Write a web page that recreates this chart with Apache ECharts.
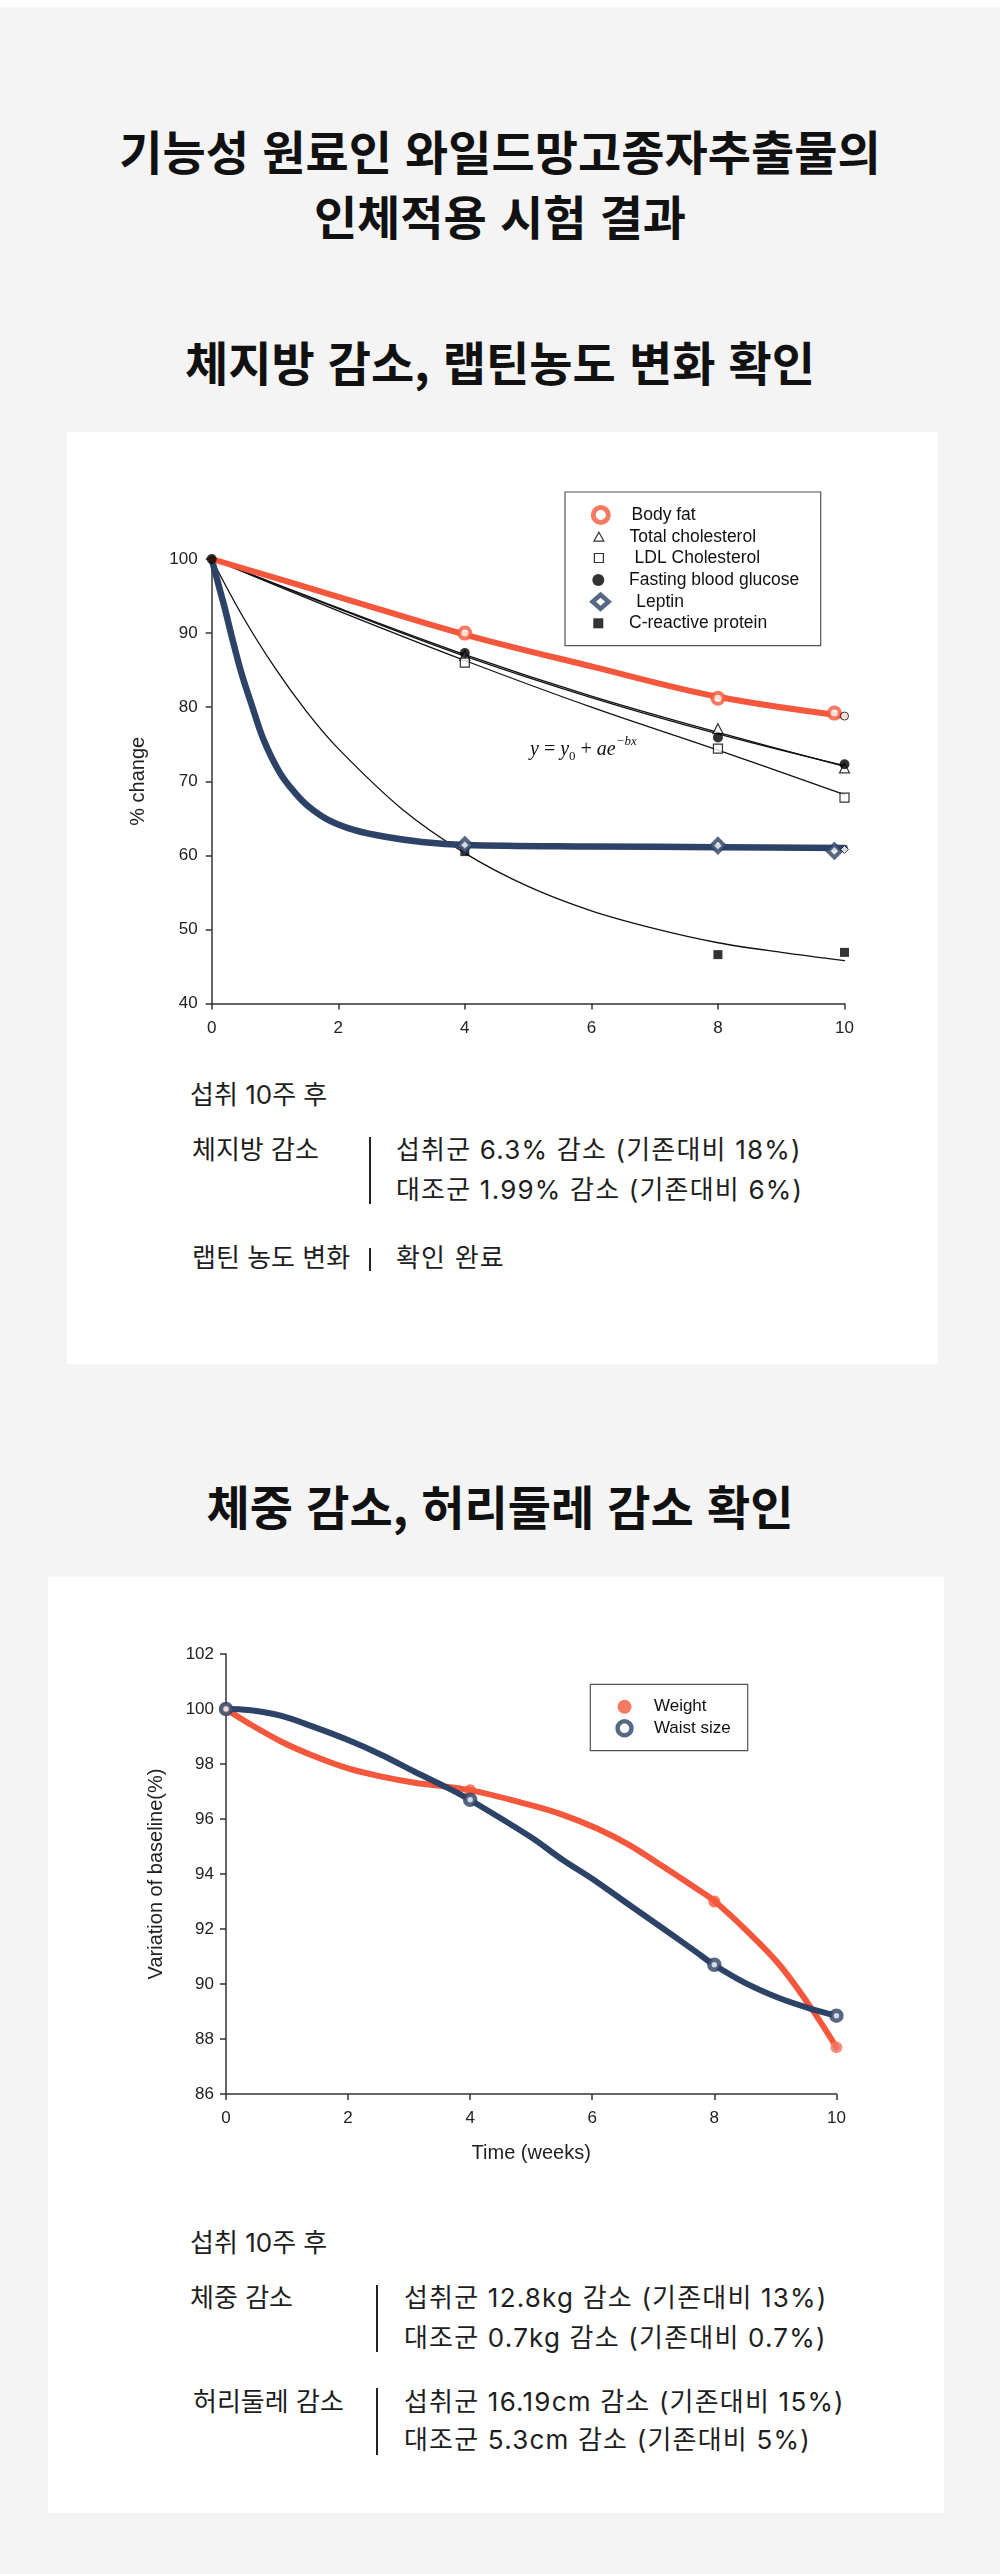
<!DOCTYPE html>
<html lang="ko">
<head>
<meta charset="utf-8">
<title>와일드망고종자추출물 인체적용 시험 결과</title>
<script src="https://cdn.jsdelivr.net/npm/echarts@6/dist/echarts.min.js"></script>
<style>
html, body { margin: 0; padding: 0; }
body {
  width: 1000px; height: 2574px; position: relative; overflow: hidden;
  background: #f4f4f4; color: #1e1e1e;
  font-family: "Noto Sans CJK KR", "Noto Sans", sans-serif;
}
.topline { position: absolute; left: 0; top: 0; width: 1000px; height: 7px; background: #fff; }
.head { position: absolute; left: 0; width: 1000px; text-align: center; font-size: 47px; font-weight: 700; color: #111; line-height: 1; white-space: nowrap; }
.card { position: absolute; background: #fff; }
.chart { position: absolute; }
.t { position: absolute; font-family: "Inter", "Noto Sans CJK KR", sans-serif; font-size: 26px; line-height: 1; white-space: nowrap; color: #1e1e1e; }
.t.r { letter-spacing: 1.2px; }
.bar { position: absolute; width: 2px; background: #222; }
.eq { position: absolute; font-family: "Liberation Serif", serif; font-size: 20px; line-height: 1; white-space: nowrap; color: #111; font-style: italic; }
.eq .n { font-style: normal; }
.eq .sub { font-style: normal; font-size: 13px; position: relative; top: 5px; }
.eq .sup { font-size: 13px; position: relative; top: -10px; }
</style>
</head>
<body>
<div class="topline"></div>
<div class="head" style="top:126px">기능성 원료인 와일드망고종자추출물의</div>
<div class="head" style="top:191px">인체적용 시험 결과</div>
<div class="head" style="top:337px">체지방 감소, 랩틴농도 변화 확인</div>

<div class="card" style="left:67px; top:432px; width:871px; height:932px"></div>
<div class="chart" id="chart1" style="left:67px; top:432px; width:871px; height:620px"></div>
<div class="eq" style="left:530px; top:738px"><span>y</span> <span class="n">=</span> <span>y</span><span class="sub">0</span> <span class="n">+</span> <span>ae</span><span class="sup">&minus;bx</span></div>

<div class="t" style="left:190px; top:1082px">섭취 10주 후</div>
<div class="t" style="left:192px; top:1137px">체지방 감소</div>
<div class="bar" style="left:369px; top:1137px; height:67px"></div>
<div class="t r" style="left:396px; top:1137px">섭취군 6.3% 감소 (기존대비 18%)</div>
<div class="t r" style="left:396px; top:1177px">대조군 1.99% 감소 (기존대비 6%)</div>
<div class="t" style="left:192px; top:1245px">랩틴 농도 변화</div>
<div class="bar" style="left:369px; top:1248px; height:23px"></div>
<div class="t r" style="left:396px; top:1245px">확인 완료</div>

<div class="head" style="top:1481px">체중 감소, 허리둘레 감소 확인</div>

<div class="card" style="left:48px; top:1577px; width:896px; height:936px"></div>
<div class="chart" id="chart2" style="left:48px; top:1577px; width:896px; height:620px"></div>

<div class="t" style="left:190px; top:2230px">섭취 10주 후</div>
<div class="t" style="left:190px; top:2285px">체중 감소</div>
<div class="bar" style="left:376px; top:2285px; height:67px"></div>
<div class="t r" style="left:404px; top:2285px">섭취군 12.8kg 감소 (기존대비 13%)</div>
<div class="t r" style="left:404px; top:2325px">대조군 0.7kg 감소 (기존대비 0.7%)</div>
<div class="t" style="left:193px; top:2389px">허리둘레 감소</div>
<div class="bar" style="left:376px; top:2388px; height:67px"></div>
<div class="t r" style="left:404px; top:2389px">섭취군 16.19cm 감소 (기존대비 15%)</div>
<div class="t r" style="left:404px; top:2427px">대조군 5.3cm 감소 (기존대비 5%)</div>

<script>
// ---- chart 1 : % change over 10 weeks ----
var names1 = ['Body fat', 'Total cholesterol', 'LDL Cholesterol', 'Fasting blood glucose', 'Leptin', 'C-reactive protein']

// measured points [week, % change]
var bodyFatPts = [[4, 90.0], [8, 81.2], [9.84, 79.2]]
var bodyFatRaw = [[10, 78.8]]
var totalCholPts = [[4, 87.0], [8, 77.1], [10, 71.8]]
var ldlPts = [[4, 86.0], [8, 74.4], [10, 67.8]]
var glucosePts = [[0, 100], [4, 87.3], [8, 75.9], [10, 72.3]]
var leptinPts = [[4, 61.4], [8, 61.3], [9.84, 60.6]]
var leptinRaw = [[10, 60.8]]
var crpPts = [[4, 60.5], [8, 46.6], [10, 46.9]]

// fitted curves
var bodyFatFitX = [0, 2, 4, 6, 8, 10]
var bodyFatFitY = [100, 94.9, 89.8, 85.5, 81.4, 78.8]
var cholFitX = [0, 2, 4, 6, 8, 10]
var totalCholFitY = [100, 93.4, 87.1, 81.5, 76.6, 72.0]
var glucoseFitY = [100, 93.3, 86.9, 81.3, 76.4, 72.1]
var ldlFitY = [100, 93.0, 86.3, 80.0, 74.2, 68.2]
var crpFitX = [0, 0.5, 1, 1.5, 2, 3, 4, 5, 6, 7, 8, 9, 10]
var crpFitY = [100, 92.1, 85.3, 79.4, 74.4, 66.3, 60.3, 55.8, 52.5, 50.1, 48.2, 46.9, 45.8]
var leptinFitX = [0, 0.13, 0.2, 0.33, 0.47, 0.64, 0.82, 1.08, 1.32, 1.53, 1.84, 2.26, 2.74, 3.32, 4, 6, 8, 10]
var leptinFitY = [100, 95.8, 93.6, 89.1, 84.6, 80.1, 75.6, 71.1, 68.4, 66.6, 64.8, 63.4, 62.5, 61.8, 61.4, 61.2, 61.1, 61.0]

// ---- chart 2 : variation of baseline ----
var names2 = ['Weight', 'Waist size']
var weightPts = [[0, 100], [4, 97.05], [8, 93.0], [10, 87.7]]
var waistPts = [[0, 100], [4, 96.7], [8, 90.7], [10, 88.85]]
var weightFitX = [0, 0.37, 0.91, 1.46, 2, 2.55, 3.09, 4, 4.98, 5.52, 6.07, 6.61, 7.16, 7.7, 8, 8.52, 9.07, 9.61, 10]
var weightFitY = [100, 99.48, 98.81, 98.27, 97.84, 97.54, 97.32, 97.05, 96.51, 96.15, 95.66, 95.05, 94.27, 93.48, 93.02, 91.96, 90.69, 89.05, 87.7]
var waistFitX = [0, 0.37, 0.91, 1.46, 2, 2.55, 3.09, 3.64, 4, 4.98, 5.52, 6.07, 6.61, 7.16, 7.7, 8, 8.52, 9.07, 9.61, 10]
var waistFitY = [100, 99.96, 99.75, 99.33, 98.87, 98.33, 97.72, 97.12, 96.69, 95.36, 94.51, 93.72, 92.87, 92.02, 91.17, 90.69, 90.02, 89.48, 89.08, 88.85]

var ORANGE = '#f4573b'
var NAVY = '#2d4267'
var AXIS = '#333'
var LABEL = '#222'

function zip(xs, ys) {
    var out = []
    for (var i = 0; i < xs.length; ++i) out.push([xs[i], ys[i]])
    return out
}

function fitLine(name, xs, ys, color, width, z) {
    return {
        name: name, type: 'line', data: zip(xs, ys),
        smooth: 0.35, symbol: 'none', showSymbol: false,
        clip: false, silent: true, z: z,
        lineStyle: { color: color, width: width, cap: 'round', join: 'round' }
    }
}

function valueAxis(min, max, interval, labelMargin) {
    return {
        type: 'value', min: min, max: max, interval: interval,
        axisLine: { show: true, lineStyle: { color: AXIS, width: 1.5 } },
        axisTick: { show: true, inside: false, length: 6, lineStyle: { color: AXIS, width: 1.5 } },
        axisLabel: { color: LABEL, fontSize: 17, fontFamily: 'Liberation Sans', margin: labelMargin },
        splitLine: { show: false }
    }
}

function legendRow(name, icon, w, h, left, top, pad, style) {
    return {
        data: [{ name: name, icon: icon, itemStyle: style }],
        left: left, top: top, itemWidth: w, itemHeight: h, padding: 0,
        selectedMode: false,
        textStyle: { fontSize: 17.5, color: '#111', fontFamily: 'Liberation Sans', lineHeight: 20, padding: [0, 0, 0, pad] }
    }
}

var chart1 = echarts.init(document.getElementById('chart1'))
var xAxis1 = valueAxis(0, 10, 2, 16)
var yAxis1 = valueAxis(40, 100, 10, 14)
yAxis1.name = '% change'
yAxis1.nameLocation = 'middle'
yAxis1.nameGap = 63
yAxis1.nameTextStyle = { fontSize: 20, color: LABEL, fontFamily: 'Liberation Sans' }

chart1.setOption({
    animation: false,
    grid: { left: 144.7, top: 127, width: 632.8, height: 444.5, outerBoundsMode: 'none' },
    xAxis: xAxis1,
    yAxis: yAxis1,
    legend: [
        legendRow(names1[0], 'circle', 15, 15, 523.8, 73, 18.2, { color: '#fff', borderColor: ORANGE, borderWidth: 5 }),
        legendRow(names1[1], 'triangle', 10, 9, 526.3, 94.7, 20.7, { color: '#fff', borderColor: '#000', borderWidth: 1.2 }),
        legendRow(names1[2], 'rect', 9, 9, 526.8, 116, 26.2, { color: '#fff', borderColor: '#000', borderWidth: 1.2 }),
        legendRow(names1[3], 'circle', 12, 12, 525.3, 138, 19.7, { color: '#000', borderColor: '#000', borderWidth: 0 }),
        legendRow(names1[4], 'diamond', 16, 14, 523.3, 159.7, 22.7, { color: '#fff', borderColor: NAVY, borderWidth: 4.5 }),
        legendRow(names1[5], 'rect', 10, 10, 526.3, 181.3, 20.7, { color: '#000', borderColor: '#000', borderWidth: 0 })
    ],
    graphic: [{
        type: 'rect', silent: true, z: -1,
        shape: { x: 498, y: 60, width: 255.7, height: 153.7 },
        style: { fill: '#fff', stroke: '#555', lineWidth: 1.2 }
    }],
    series: [
        fitLine('Total cholesterol fit', cholFitX, totalCholFitY, '#111', 1.3, 2),
        fitLine('Fasting blood glucose fit', cholFitX, glucoseFitY, '#111', 1.3, 2),
        fitLine('LDL Cholesterol fit', cholFitX, ldlFitY, '#111', 1.3, 2),
        fitLine('C-reactive protein fit', crpFitX, crpFitY, '#111', 1.3, 2),
        fitLine('Leptin fit', leptinFitX, leptinFitY, NAVY, 6.5, 3),
        fitLine('Body fat fit', bodyFatFitX, bodyFatFitY, ORANGE, 6, 3),
        {
            name: names1[1], type: 'scatter', z: 4, symbol: 'triangle', symbolSize: 10,
            itemStyle: { color: '#fff', borderColor: '#000', borderWidth: 1.2 }, data: totalCholPts
        },
        {
            name: names1[2], type: 'scatter', z: 4, symbol: 'rect', symbolSize: 9,
            itemStyle: { color: '#fff', borderColor: '#000', borderWidth: 1.2 }, data: ldlPts
        },
        {
            name: names1[3], type: 'scatter', z: 4, symbol: 'circle', symbolSize: 10,
            itemStyle: { color: '#000' }, data: glucosePts
        },
        {
            name: names1[5], type: 'scatter', z: 4, symbol: 'rect', symbolSize: 9,
            itemStyle: { color: '#000' }, data: crpPts
        },
        {
            name: names1[0], type: 'scatter', z: 5, symbol: 'circle', symbolSize: 11,
            itemStyle: { color: '#fff', borderColor: ORANGE, borderWidth: 4 },
            data: bodyFatPts.concat(bodyFatRaw.map(function (p) {
                return { value: p, symbolSize: 8, itemStyle: { color: '#fff', borderColor: '#000', borderWidth: 1 } }
            }))
        },
        {
            name: names1[4], type: 'scatter', z: 5, symbol: 'diamond', symbolSize: [13, 13],
            itemStyle: { color: '#fff', borderColor: NAVY, borderWidth: 4 },
            data: leptinPts.concat(leptinRaw.map(function (p) {
                return { value: p, symbolSize: 8, itemStyle: { color: '#fff', borderColor: '#000', borderWidth: 1 } }
            }))
        }
    ]
})

var chart2 = echarts.init(document.getElementById('chart2'))
var xAxis2 = valueAxis(0, 10, 2, 16)
xAxis2.name = 'Time (weeks)'
xAxis2.nameLocation = 'middle'
xAxis2.nameGap = 49
xAxis2.nameTextStyle = { fontSize: 20, color: LABEL, fontFamily: 'Liberation Sans' }
var yAxis2 = valueAxis(86, 102, 2, 12)
yAxis2.name = 'Variation of baseline(%)'
yAxis2.nameLocation = 'middle'
yAxis2.nameGap = 60
yAxis2.nameTextStyle = { fontSize: 20, color: LABEL, fontFamily: 'Liberation Sans' }

chart2.setOption({
    animation: false,
    grid: { left: 178, top: 77, width: 610.4, height: 440, outerBoundsMode: 'none' },
    xAxis: xAxis2,
    yAxis: yAxis2,
    legend: {
        data: [
            { name: names2[0], icon: 'circle', itemStyle: { color: ORANGE, borderWidth: 0 } },
            { name: names2[1], icon: 'circle', itemStyle: { color: '#fff', borderColor: NAVY, borderWidth: 4.5 } }
        ],
        orient: 'vertical', left: 567.3, top: 119.7, itemWidth: 14, itemHeight: 14, itemGap: 1.6,
        padding: 0, selectedMode: false,
        textStyle: { fontSize: 17, color: '#111', fontFamily: 'Liberation Sans', lineHeight: 20, padding: [0, 0, 0, 17.4] }
    },
    graphic: [{
        type: 'rect', silent: true, z: -1,
        shape: { x: 542.3, y: 107.3, width: 157.4, height: 66.4 },
        style: { fill: '#fff', stroke: '#555', lineWidth: 1.2 }
    }],
    series: [
        fitLine('Weight fit', weightFitX, weightFitY, ORANGE, 6, 2),
        fitLine('Waist size fit', waistFitX, waistFitY, NAVY, 6, 3),
        {
            name: names2[0], type: 'scatter', z: 4, symbol: 'circle', symbolSize: 12,
            itemStyle: { color: ORANGE },
            data: weightPts.map(function (p, i) {
                return i === weightPts.length - 1 ? { value: p, itemStyle: { color: '#f47566' } } : p
            })
        },
        {
            name: names2[1], type: 'scatter', z: 5, symbol: 'circle', symbolSize: 10,
            itemStyle: { color: '#fff', borderColor: NAVY, borderWidth: 4.5 }, data: waistPts
        }
    ]
})
</script>
</body>
</html>
